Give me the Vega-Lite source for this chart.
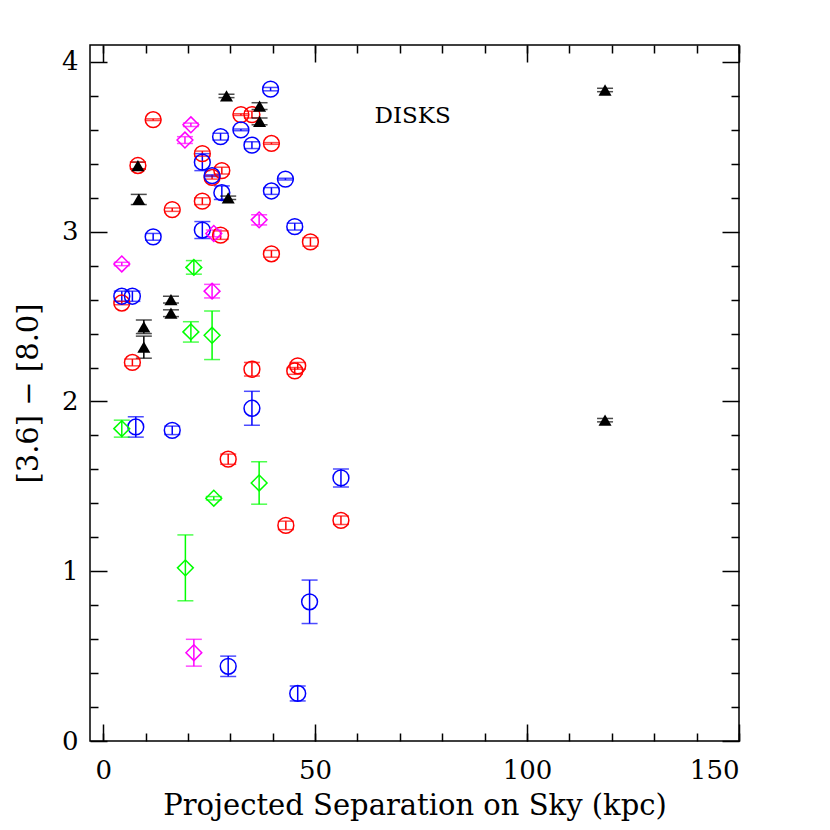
{
  "$schema": "https://vega.github.io/schema/vega-lite/v6.json",
  "width": 649,
  "height": 696,
  "autosize": {"type": "none"},
  "padding": {"left": 90, "top": 45, "right": 91, "bottom": 89},
  "background": "white",
  "config": {
    "view": {"stroke": "black", "strokeWidth": 1.5},
    "axis": {
      "domain": false, "grid": false, "tickColor": "black", "tickWidth": 1.5,
      "labelFont": "DejaVu Serif", "labelFontSize": 26, "labelColor": "black",
      "titleFont": "DejaVu Serif", "titleFontSize": 29, "titleFontWeight": "normal", "titleColor": "black"
    }
  },
  "datasets": {
    "pts": [
      {"g": "tri", "x": 29.1, "y": 3.80, "lo": 3.79, "hi": 3.81},
      {"g": "tri", "x": 36.9, "y": 3.74, "lo": 3.72, "hi": 3.76},
      {"g": "tri", "x": 36.9, "y": 3.65, "lo": 3.63, "hi": 3.67},
      {"g": "tri", "x": 8.2, "y": 3.39, "lo": 3.37, "hi": 3.41},
      {"g": "tri", "x": 8.4, "y": 3.19, "lo": 3.16, "hi": 3.22},
      {"g": "tri", "x": 29.5, "y": 3.20, "lo": 3.19, "hi": 3.21},
      {"g": "tri", "x": 16.0, "y": 2.60, "lo": 2.58, "hi": 2.62},
      {"g": "tri", "x": 16.0, "y": 2.52, "lo": 2.50, "hi": 2.54},
      {"g": "tri", "x": 9.6, "y": 2.44, "lo": 2.40, "hi": 2.48},
      {"g": "tri", "x": 9.6, "y": 2.32, "lo": 2.255, "hi": 2.385},
      {"g": "tri", "x": 118.4, "y": 3.835, "lo": 3.825, "hi": 3.845},
      {"g": "tri", "x": 118.4, "y": 1.89, "lo": 1.88, "hi": 1.90},

      {"g": "red", "x": 11.8, "y": 3.66, "lo": 3.655, "hi": 3.665},
      {"g": "red", "x": 8.2, "y": 3.39, "lo": 3.37, "hi": 3.41},
      {"g": "red", "x": 32.5, "y": 3.69, "lo": 3.685, "hi": 3.695},
      {"g": "red", "x": 35.1, "y": 3.69, "lo": 3.67, "hi": 3.71},
      {"g": "red", "x": 39.7, "y": 3.52, "lo": 3.515, "hi": 3.525},
      {"g": "red", "x": 23.4, "y": 3.46, "lo": 3.445, "hi": 3.475},
      {"g": "red", "x": 28.0, "y": 3.36, "lo": 3.34, "hi": 3.38},
      {"g": "red", "x": 25.7, "y": 3.32, "lo": 3.31, "hi": 3.33},
      {"g": "red", "x": 23.4, "y": 3.18, "lo": 3.16, "hi": 3.20},
      {"g": "red", "x": 16.3, "y": 3.13, "lo": 3.12, "hi": 3.14},
      {"g": "red", "x": 27.7, "y": 2.98, "lo": 2.955, "hi": 3.005},
      {"g": "red", "x": 39.7, "y": 2.87, "lo": 2.85, "hi": 2.89},
      {"g": "red", "x": 48.9, "y": 2.94, "lo": 2.915, "hi": 2.965},
      {"g": "red", "x": 4.4, "y": 2.58, "lo": 2.57, "hi": 2.59},
      {"g": "red", "x": 6.9, "y": 2.23, "lo": 2.21, "hi": 2.25},
      {"g": "red", "x": 35.1, "y": 2.19, "lo": 2.15, "hi": 2.23},
      {"g": "red", "x": 45.2, "y": 2.18, "lo": 2.16, "hi": 2.20},
      {"g": "red", "x": 45.9, "y": 2.21, "lo": 2.19, "hi": 2.23},
      {"g": "red", "x": 29.5, "y": 1.66, "lo": 1.63, "hi": 1.69},
      {"g": "red", "x": 43.1, "y": 1.27, "lo": 1.245, "hi": 1.295},
      {"g": "red", "x": 56.1, "y": 1.30, "lo": 1.275, "hi": 1.325},

      {"g": "blue", "x": 39.5, "y": 3.84, "lo": 3.83, "hi": 3.85},
      {"g": "blue", "x": 32.5, "y": 3.60, "lo": 3.595, "hi": 3.605},
      {"g": "blue", "x": 35.1, "y": 3.51, "lo": 3.49, "hi": 3.53},
      {"g": "blue", "x": 27.7, "y": 3.56, "lo": 3.54, "hi": 3.58},
      {"g": "blue", "x": 23.4, "y": 3.41, "lo": 3.36, "hi": 3.46},
      {"g": "blue", "x": 25.7, "y": 3.33, "lo": 3.325, "hi": 3.335},
      {"g": "blue", "x": 28.0, "y": 3.23, "lo": 3.19, "hi": 3.27},
      {"g": "blue", "x": 43.0, "y": 3.31, "lo": 3.305, "hi": 3.315},
      {"g": "blue", "x": 39.7, "y": 3.24, "lo": 3.22, "hi": 3.26},
      {"g": "blue", "x": 45.2, "y": 3.03, "lo": 3.01, "hi": 3.05},
      {"g": "blue", "x": 23.4, "y": 3.01, "lo": 2.96, "hi": 3.06},
      {"g": "blue", "x": 11.8, "y": 2.97, "lo": 2.95, "hi": 2.99},
      {"g": "blue", "x": 4.4, "y": 2.62, "lo": 2.59, "hi": 2.65},
      {"g": "blue", "x": 6.9, "y": 2.62, "lo": 2.59, "hi": 2.65},
      {"g": "blue", "x": 35.1, "y": 1.96, "lo": 1.86, "hi": 2.06},
      {"g": "blue", "x": 7.7, "y": 1.85, "lo": 1.79, "hi": 1.91},
      {"g": "blue", "x": 16.3, "y": 1.83, "lo": 1.805, "hi": 1.855},
      {"g": "blue", "x": 56.1, "y": 1.55, "lo": 1.497, "hi": 1.603},
      {"g": "blue", "x": 48.7, "y": 0.82, "lo": 0.692, "hi": 0.948},
      {"g": "blue", "x": 29.5, "y": 0.44, "lo": 0.38, "hi": 0.50},
      {"g": "blue", "x": 45.9, "y": 0.28, "lo": 0.236, "hi": 0.324},

      {"g": "mag", "x": 20.7, "y": 3.63, "lo": 3.62, "hi": 3.64},
      {"g": "mag", "x": 19.3, "y": 3.54, "lo": 3.52, "hi": 3.56},
      {"g": "mag", "x": 36.8, "y": 3.07, "lo": 3.04, "hi": 3.10},
      {"g": "mag", "x": 26.1, "y": 2.99, "lo": 2.97, "hi": 3.01},
      {"g": "mag", "x": 4.4, "y": 2.81, "lo": 2.80, "hi": 2.82},
      {"g": "mag", "x": 25.7, "y": 2.65, "lo": 2.61, "hi": 2.69},
      {"g": "mag", "x": 21.4, "y": 0.52, "lo": 0.441, "hi": 0.599},

      {"g": "green", "x": 21.4, "y": 2.79, "lo": 2.75, "hi": 2.83},
      {"g": "green", "x": 20.7, "y": 2.41, "lo": 2.35, "hi": 2.47},
      {"g": "green", "x": 25.7, "y": 2.39, "lo": 2.247, "hi": 2.533},
      {"g": "green", "x": 4.4, "y": 1.84, "lo": 1.79, "hi": 1.89},
      {"g": "green", "x": 26.1, "y": 1.43, "lo": 1.42, "hi": 1.44},
      {"g": "green", "x": 36.8, "y": 1.52, "lo": 1.395, "hi": 1.645},
      {"g": "green", "x": 19.4, "y": 1.02, "lo": 0.826, "hi": 1.214}
    ]
  },
  "layer": [
    {
      "data": {"name": "pts"},
      "mark": {"type": "rule", "strokeWidth": 1.5},
      "encoding": {
        "x": {"field": "x", "type": "quantitative",
          "scale": {"domain": [-3.1, 150], "nice": false, "zero": false},
          "axis": {"orient": "bottom", "values": [0, 50, 100, 150], "format": "d", "tickSize": -17, "labelPadding": 33, "titlePadding": 8, "title": "Projected Separation on Sky (kpc)"}},
        "y": {"field": "lo", "type": "quantitative",
          "scale": {"domain": [0, 4.1], "nice": false, "zero": false},
          "axis": {"orient": "left", "values": [0, 1, 2, 3, 4], "format": "d", "tickSize": -17, "labelPadding": 29, "titlePadding": 18, "title": "[3.6] − [8.0]"}},
        "y2": {"field": "hi"},
        "color": {"field": "g", "type": "nominal",
          "scale": {"domain": ["tri", "red", "blue", "mag", "green"], "range": ["#000000", "#ff0000", "#0000ff", "#ff00ff", "#00ff00"]},
          "legend": null}
      }
    },
    {
      "data": {"name": "pts"},
      "mark": {"type": "tick", "orient": "horizontal", "size": 16, "thickness": 1.5},
      "encoding": {
        "x": {"field": "x", "type": "quantitative",
          "axis": {"orient": "bottom", "values": [0, 10, 20, 30, 40, 50, 60, 70, 80, 90, 100, 110, 120, 130, 140, 150], "tickSize": -8, "labels": false, "title": null}},
        "y": {"field": "lo", "type": "quantitative",
          "axis": {"orient": "left", "values": [0.2, 0.4, 0.6, 0.8, 1.2, 1.4, 1.6, 1.8, 2.2, 2.4, 2.6, 2.8, 3.2, 3.4, 3.6, 3.8], "tickSize": -8, "labels": false, "title": null}},
        "color": {"field": "g", "type": "nominal", "legend": null}
      }
    },
    {
      "data": {"name": "pts"},
      "mark": {"type": "tick", "orient": "horizontal", "size": 16, "thickness": 1.5},
      "encoding": {
        "x": {"field": "x", "type": "quantitative",
          "axis": {"orient": "top", "values": [0, 50, 100, 150], "tickSize": -17, "labels": false, "title": null}},
        "y": {"field": "hi", "type": "quantitative",
          "axis": {"orient": "right", "values": [0, 1, 2, 3, 4], "tickSize": -17, "labels": false, "title": null}},
        "color": {"field": "g", "type": "nominal", "legend": null}
      }
    },
    {
      "data": {"name": "pts"},
      "transform": [{"filter": "datum.g == 'red' || datum.g == 'blue'"}],
      "mark": {"type": "point", "shape": "circle", "filled": false, "size": 250, "strokeWidth": 1.5, "opacity": 1},
      "encoding": {
        "x": {"field": "x", "type": "quantitative",
          "axis": {"orient": "top", "values": [0, 10, 20, 30, 40, 50, 60, 70, 80, 90, 100, 110, 120, 130, 140, 150], "tickSize": -8, "labels": false, "title": null}},
        "y": {"field": "y", "type": "quantitative",
          "axis": {"orient": "right", "values": [0.2, 0.4, 0.6, 0.8, 1.2, 1.4, 1.6, 1.8, 2.2, 2.4, 2.6, 2.8, 3.2, 3.4, 3.6, 3.8], "tickSize": -8, "labels": false, "title": null}},
        "color": {"field": "g", "type": "nominal", "legend": null}
      }
    },
    {
      "data": {"name": "pts"},
      "transform": [{"filter": "datum.g == 'mag' || datum.g == 'green'"}],
      "mark": {"type": "point", "shape": "diamond", "filled": false, "size": 250, "strokeWidth": 1.5, "opacity": 1},
      "encoding": {
        "x": {"field": "x", "type": "quantitative", "axis": null},
        "y": {"field": "y", "type": "quantitative", "axis": null},
        "color": {"field": "g", "type": "nominal", "legend": null}
      }
    },
    {
      "data": {"name": "pts"},
      "transform": [{"filter": "datum.g == 'tri'"}],
      "mark": {"type": "point", "shape": "triangle-up", "filled": true, "size": 170, "opacity": 1, "color": "black"},
      "encoding": {
        "x": {"field": "x", "type": "quantitative", "axis": null},
        "y": {"field": "y", "type": "quantitative", "axis": null}
      }
    },
    {
      "data": {"values": [{"x": 73, "y": 3.68, "t": "DISKS"}]},
      "mark": {"type": "text", "font": "DejaVu Serif", "fontSize": 23, "color": "black"},
      "encoding": {
        "x": {"field": "x", "type": "quantitative", "axis": null},
        "y": {"field": "y", "type": "quantitative", "axis": null},
        "text": {"field": "t"}
      }
    }
  ],
  "resolve": {"axis": {"x": "independent", "y": "independent"}}
}
